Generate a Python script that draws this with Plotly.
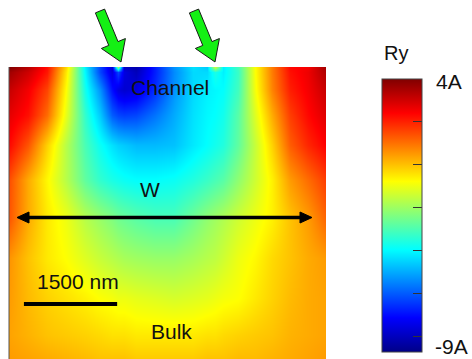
import math
import plotly.graph_objects as go

# ---------------- data ----------------
# horizontal positions across the device (nm) and depth below the surface (nm)
x_nm = [0, 310, 610, 920, 1220, 1460, 1660, 1750, 1850, 2040, 2350, 2650,
        2960, 3190, 3310, 3440, 3680, 3960, 4230, 4520, 4810, 5100]
depth_nm = [0, 80, 370, 770, 1260, 1820, 2430, 3070, 3720, 4310, 4700]

# Ry values (units of A), one row per depth
ry_d0 = [4.0, 3.3, 2.2, -0.4, -4.3, -6.5, -8.0, -2.0, -8.2, -8.5, -7.0, -5.5, -4.5, -4.8, -1.5, -4.3, -3.3, -0.9, 0.8, 2.3, 2.5, 3.6]
ry_d1 = [3.6, 3.0, 2.1, -0.6, -4.2, -6.5, -7.8, -6.5, -7.8, -8.3, -7.0, -5.6, -4.6, -4.6, -3.8, -4.3, -3.4, -0.9, 0.8, 2.2, 2.6, 3.4]
ry_d2 = [3.1, 2.5, 1.5, -0.9, -3.9, -5.5, -7.2, -7.8, -8.0, -7.8, -6.8, -5.5, -4.6, -4.3, -4.2, -4.1, -3.3, -1.0, 0.7, 2.0, 2.5, 3.1]
ry_d3 = [2.7, 2.2, 1.0, -1.2, -3.5, -4.8, -6.2, -6.5, -6.6, -6.5, -5.9, -5.2, -4.5, -4.2, -4.1, -3.9, -3.0, -1.3, 0.2, 1.6, 2.3, 2.8]
ry_d4 = [2.3, 1.3, -0.3, -1.8, -3.2, -4.0, -4.5, -4.7, -4.8, -5.0, -5.0, -4.9, -4.4, -4.1, -3.9, -3.7, -2.9, -1.6, -0.3, 1.2, 1.9, 2.4]
ry_d5 = [1.4, 0.2, -0.8, -1.8, -2.9, -3.5, -3.8, -3.9, -4.0, -4.1, -4.1, -4.0, -3.7, -3.4, -3.2, -3.0, -2.3, -1.5, -0.7, 0.4, 1.0, 1.6]
ry_d6 = [1.3, 0.2, -0.6, -1.1, -1.8, -2.2, -2.5, -2.7, -2.8, -3.0, -3.2, -3.2, -2.7, -2.3, -2.1, -1.9, -1.5, -1.1, -0.7, -0.1, 0.4, 1.1]
ry_d7 = [0.5, -0.1, -0.6, -0.9, -1.3, -1.6, -1.8, -1.9, -2.0, -2.1, -2.2, -2.2, -2.0, -1.8, -1.7, -1.5, -1.1, -0.8, -0.4, -0.1, 0.2, 0.4]
ry_d8 = [0.4, 0.0, -0.3, -0.5, -0.7, -0.9, -1.0, -1.1, -1.1, -1.2, -1.3, -1.4, -1.3, -1.2, -1.1, -1.0, -0.9, -0.6, -0.3, 0.0, 0.2, 0.3]
ry_d9 = [0.3, 0.1, -0.1, -0.2, -0.3, -0.4, -0.5, -0.5, -0.5, -0.6, -0.6, -0.6, -0.6, -0.5, -0.5, -0.4, -0.3, -0.2, -0.1, 0.1, 0.2, 0.3]
ry_d10 = [0.4, 0.3, 0.2, 0.1, 0.0, -0.1, -0.1, -0.1, -0.1, -0.2, -0.2, -0.2, -0.2, -0.1, -0.1, -0.1, 0.0, 0.0, 0.1, 0.2, 0.3, 0.4]
ry_rows = [ry_d0, ry_d1, ry_d2, ry_d3, ry_d4, ry_d5, ry_d6, ry_d7, ry_d8, ry_d9, ry_d10]

z_min, z_max = -9, 4
cbar_tick_vals = [2.0, -0.06, -2.11, -4.15, -6.2, -8.24]
cbar_top_label = "4A"
cbar_bottom_label = "-9A"
cbar_title = "Ry"
scale_bar_nm = 1500
scale_bar_label = "1500 nm"
region_labels = ["Channel", "W", "Bulk"]

# ---------------- layout helpers ----------------
FW, FH = 472, 359
FONT = "Liberation Sans, Arial, sans-serif"
TXT = "#111111"

def px(x):
    return x / FW

def py(y):
    return 1 - y / FH

jet = [[0.0, "rgb(0,0,135)"], [0.125, "rgb(0,0,255)"], [0.375, "rgb(0,255,255)"],
       [0.625, "rgb(255,255,0)"], [0.875, "rgb(255,0,0)"], [1.0, "rgb(128,0,0)"]]

# heatmap placement (pixels)
HM_L, HM_R, HM_T = 9, 326, 67
# colorbar placement (pixels)
CB_L, CB_R, CB_T, CB_B = 382, 423, 79, 352

fig = go.Figure()
fig.add_trace(go.Heatmap(
    x=x_nm, y=depth_nm, z=ry_rows,
    zmin=z_min, zmax=z_max, zsmooth="best",
    colorscale=jet, hoverinfo="skip",
    colorbar=dict(
        thickness=CB_R - CB_L - 1, len=(CB_B - CB_T) / FH, lenmode="fraction",
        x=px(CB_L), xanchor="left", y=py((CB_T + CB_B) / 2), yanchor="middle",
        xpad=0, ypad=0, outlinewidth=1, outlinecolor="#444444",
        tickmode="array", tickvals=cbar_tick_vals, ticks="inside", ticklen=9,
        tickwidth=1, tickcolor="#333333", showticklabels=False,
    ),
))

shapes = []
annotations = []

# left-side ticks of the colorbar
for v in cbar_tick_vals:
    yv = CB_B - (v - z_min) / (z_max - z_min) * (CB_B - CB_T)
    shapes.append(dict(type="line", xref="paper", yref="paper",
                       x0=px(CB_L), x1=px(CB_L + 9), y0=py(yv), y1=py(yv),
                       line=dict(color="#333333", width=1)))

# thin left border of the map
shapes.append(dict(type="line", xref="paper", yref="paper",
                   x0=px(HM_L), x1=px(HM_L), y0=py(HM_T), y1=0,
                   line=dict(color="#555555", width=1)))

# green block arrows pointing at the channel
def block_arrow(tail, tip, shaft_hw=5.0, head_hw=13.0, head_len=20.0):
    dx, dy = tip[0] - tail[0], tip[1] - tail[1]
    L = math.hypot(dx, dy)
    ux, uy = dx / L, dy / L
    nx, ny = uy, -ux
    bx, by = tip[0] - head_len * ux, tip[1] - head_len * uy
    pts = [
        (tail[0] + shaft_hw * nx, tail[1] + shaft_hw * ny),
        (bx + shaft_hw * nx, by + shaft_hw * ny),
        (bx + head_hw * nx, by + head_hw * ny),
        tip,
        (bx - head_hw * nx, by - head_hw * ny),
        (bx - shaft_hw * nx, by - shaft_hw * ny),
        (tail[0] - shaft_hw * nx, tail[1] - shaft_hw * ny),
    ]
    path = "M " + " L ".join(f"{px(a):.5f},{py(b):.5f}" for a, b in pts) + " Z"
    return dict(type="path", xref="paper", yref="paper", path=path,
                fillcolor="rgb(20,240,20)", line=dict(color="#1a1a1a", width=1))

shapes.append(block_arrow((100, 11), (121, 62)))
shapes.append(block_arrow((194, 11), (215, 62)))

# double-headed width arrow
AY = 217.5
A_L, A_R = 17, 312
shapes.append(dict(type="line", xref="paper", yref="paper",
                   x0=px(A_L + 8), x1=px(A_R - 8), y0=py(AY), y1=py(AY),
                   line=dict(color="#000000", width=3.5)))
for tipx, sgn in [(A_L, 1), (A_R, -1)]:
    pts = [(tipx, AY), (tipx + sgn * 12, AY - 5.5), (tipx + sgn * 12, AY + 5.5)]
    path = "M " + " L ".join(f"{px(a):.5f},{py(b):.5f}" for a, b in pts) + " Z"
    shapes.append(dict(type="path", xref="paper", yref="paper", path=path,
                       fillcolor="#000000", line=dict(color="#000000", width=1)))

# scale bar (length in data units)
SB_X0 = 240
shapes.append(dict(type="line", xref="x", yref="paper",
                   x0=SB_X0, x1=SB_X0 + scale_bar_nm, y0=py(304), y1=py(304),
                   line=dict(color="#000000", width=4)))

def label(text, x, y, size=21):
    annotations.append(dict(text=text, xref="paper", yref="paper",
                            x=px(x), y=py(y), xanchor="center", yanchor="middle",
                            showarrow=False, font=dict(family=FONT, size=size, color=TXT)))

label(region_labels[0], 170, 87)
label(region_labels[1], 150, 189)
label(scale_bar_label, 78, 281)
label(region_labels[2], 171, 331)
label(cbar_title, 396, 53, size=20)
label(cbar_top_label, 449, 81)
label(cbar_bottom_label, 451, 346)

fig.update_layout(
    width=FW, height=FH,
    margin=dict(l=0, r=0, t=0, b=0),
    paper_bgcolor="white", plot_bgcolor="white",
    xaxis=dict(domain=[px(HM_L), px(HM_R)], range=[x_nm[0], x_nm[-1]],
               visible=False, fixedrange=True),
    yaxis=dict(domain=[0, py(HM_T)], range=[depth_nm[-1], depth_nm[0]],
               visible=False, fixedrange=True),
    shapes=shapes, annotations=annotations, showlegend=False,
)

fig.write_html("out.html", config={"displayModeBar": False},
               post_script="document.body.style.margin='0';document.body.style.overflow='hidden';")
